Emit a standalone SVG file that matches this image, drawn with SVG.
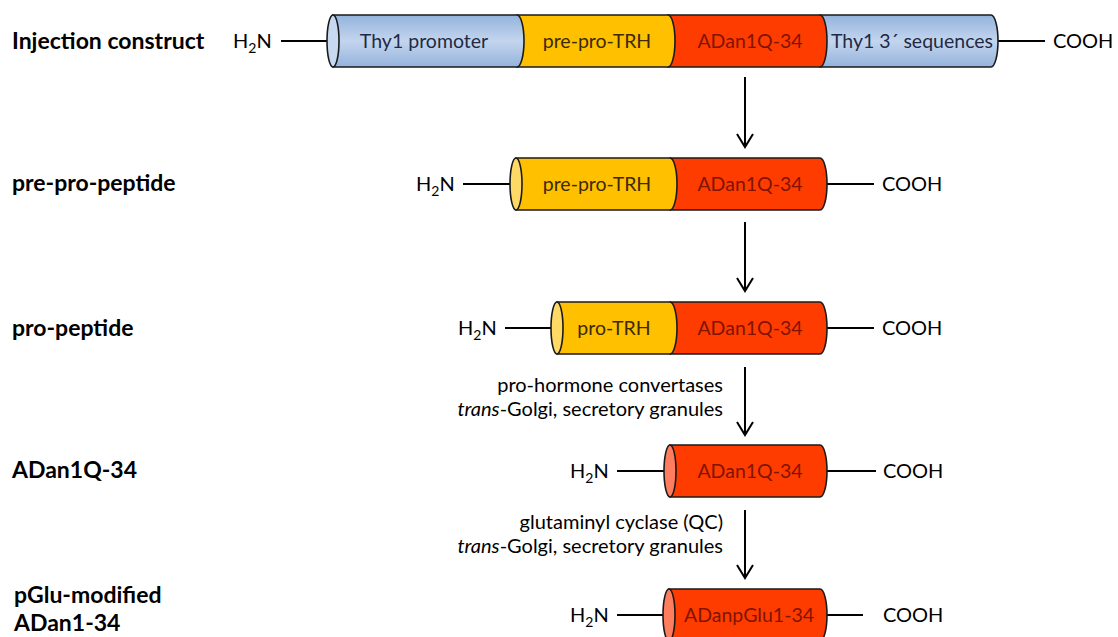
<svg xmlns="http://www.w3.org/2000/svg" width="1118" height="637" viewBox="0 0 1118 637">
<defs>
<linearGradient id="gBlue" x1="0" y1="0" x2="0" y2="1">
<stop offset="0" stop-color="#94b3dc"/>
<stop offset="0.5" stop-color="#c3d5ee"/>
<stop offset="1" stop-color="#94b3dc"/>
</linearGradient>
<marker id="arr" markerWidth="16" markerHeight="20" refX="14" refY="9" orient="auto" markerUnits="userSpaceOnUse" viewBox="0 0 16 18">
<polyline points="1,1 14,9 1,17" fill="none" stroke="#000" stroke-width="2"/>
</marker>
</defs>
<style>
text{font-family:Lato,"Liberation Sans",sans-serif;font-size:20px;fill:#000}
.lbl{font-weight:bold;font-size:23px}
.seg{stroke:#1a1a1a;stroke-width:1.6}
.blue{fill:url(#gBlue)}
.yel{fill:#ffc000}
.red{fill:#ff3c00}
.capB{fill:#c6d9f1}
.capY{fill:#ffd966}
.capR{fill:#ff7d5f}
.tB{fill:#1f2a44}
.tY{fill:#3d2a00}
.tR{fill:#801400}
.in{text-anchor:middle;font-size:19.5px}
.ln{stroke:#000;stroke-width:2}
.note{text-anchor:end;font-size:20px}
.sub{font-size:14px}
</style>
<rect width="1118" height="637" fill="#fff"/>

<g id="labels">
<text class="lbl" x="12" y="49">Injection construct</text>
<text class="lbl" x="12" y="191">pre-pro-peptide</text>
<text class="lbl" x="12" y="336">pro-peptide</text>
<text class="lbl" x="12" y="478">ADan1Q-34</text>
<text class="lbl" x="14" y="603" font-size="22">pGlu-modified</text>
<text class="lbl" x="14" y="631" font-size="22">ADan1-34</text>
</g>

<g id="row1">
<line class="ln" x1="281" y1="41" x2="333" y2="41"/>
<line class="ln" x1="998" y1="41" x2="1045" y2="41"/>
<text x="233" y="48">H<tspan class="sub" dy="5">2</tspan><tspan dy="-5">N</tspan></text>
<text x="1053" y="48">COOH</text>
<path class="seg blue" d="M820,15 L991,15 A7,26 0 0 1 991,67 L820,67 Z"/>
<path class="seg red" d="M668,15 L820,15 A7,26 0 0 1 820,67 L668,67 Z"/>
<path class="seg yel" d="M517,15 L668,15 A7,26 0 0 1 668,67 L517,67 Z"/>
<path class="seg blue" d="M333,15 L517,15 A7,26 0 0 1 517,67 L333,67 Z"/>
<ellipse class="seg capB" cx="333" cy="41" rx="6" ry="26"/>
<text class="in tB" x="424" y="48">Thy1 promoter</text>
<text class="in tY" x="597" y="48">pre-pro-TRH</text>
<text class="in tR" x="750" y="48">ADan1Q-34</text>
<text class="in tB" x="912" y="48" font-size="18.5">Thy1 3´ sequences</text>
</g>

<g id="row2">
<line class="ln" x1="463" y1="184" x2="516" y2="184"/>
<line class="ln" x1="827" y1="184" x2="874" y2="184"/>
<text x="416" y="191">H<tspan class="sub" dy="5">2</tspan><tspan dy="-5">N</tspan></text>
<text x="882" y="191">COOH</text>
<path class="seg red" d="M670,158 L820,158 A7,26 0 0 1 820,210 L670,210 Z"/>
<path class="seg yel" d="M516,158 L670,158 A7,26 0 0 1 670,210 L516,210 Z"/>
<ellipse class="seg capY" cx="516" cy="184" rx="6" ry="26"/>
<text class="in tY" x="597" y="191">pre-pro-TRH</text>
<text class="in tR" x="750" y="191">ADan1Q-34</text>
</g>

<g id="row3">
<line class="ln" x1="505" y1="328" x2="557" y2="328"/>
<line class="ln" x1="827" y1="328" x2="874" y2="328"/>
<text x="458" y="335">H<tspan class="sub" dy="5">2</tspan><tspan dy="-5">N</tspan></text>
<text x="882" y="335">COOH</text>
<path class="seg red" d="M670,302 L820,302 A7,26 0 0 1 820,354 L670,354 Z"/>
<path class="seg yel" d="M557,302 L670,302 A7,26 0 0 1 670,354 L557,354 Z"/>
<ellipse class="seg capY" cx="557" cy="328" rx="6" ry="26"/>
<text class="in tY" x="614" y="335">pro-TRH</text>
<text class="in tR" x="750" y="335">ADan1Q-34</text>
</g>

<g id="row4">
<line class="ln" x1="617" y1="471" x2="670" y2="471"/>
<line class="ln" x1="827" y1="471" x2="876" y2="471"/>
<text x="570" y="478">H<tspan class="sub" dy="5">2</tspan><tspan dy="-5">N</tspan></text>
<text x="883" y="478">COOH</text>
<path class="seg red" d="M670,445 L820,445 A7,26 0 0 1 820,497 L670,497 Z"/>
<ellipse class="seg capR" cx="670" cy="471" rx="6" ry="26"/>
<text class="in tR" x="750" y="478">ADan1Q-34</text>
</g>

<g id="row5">
<line class="ln" x1="617" y1="615" x2="669" y2="615"/>
<line class="ln" x1="827" y1="615" x2="863" y2="615"/>
<text x="570" y="622">H<tspan class="sub" dy="5">2</tspan><tspan dy="-5">N</tspan></text>
<text x="883" y="622">COOH</text>
<path class="seg red" d="M669,589 L820,589 A7,26 0 0 1 820,641 L669,641 Z"/>
<ellipse class="seg capR" cx="669" cy="615" rx="6" ry="26"/>
<text class="in tR" x="749" y="622">ADanpGlu1-34</text>
</g>

<g id="connectors">
<line class="ln" x1="745" y1="77" x2="745" y2="147" marker-end="url(#arr)"/>
<line class="ln" x1="745" y1="222" x2="745" y2="291" marker-end="url(#arr)"/>
<line class="ln" x1="745" y1="367" x2="745" y2="435" marker-end="url(#arr)"/>
<line class="ln" x1="745" y1="510" x2="745" y2="578" marker-end="url(#arr)"/>
<text class="note" x="723" y="392">pro-hormone convertases</text>
<text class="note" x="723" y="416"><tspan font-style="italic">trans</tspan>-Golgi, secretory granules</text>
<text class="note" x="723" y="529">glutaminyl cyclase (QC)</text>
<text class="note" x="723" y="553"><tspan font-style="italic">trans</tspan>-Golgi, secretory granules</text>
</g>
</svg>
